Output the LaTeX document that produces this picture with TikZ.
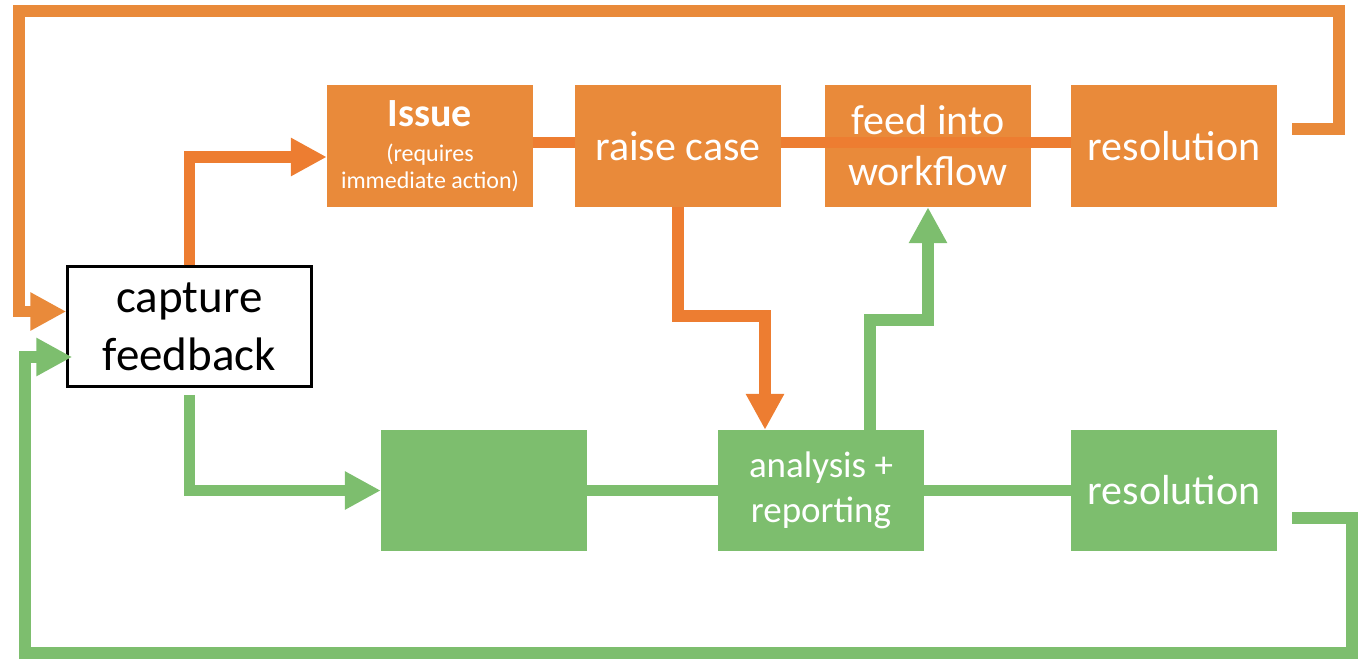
\documentclass[tikz,border=0pt]{standalone}
\usepackage{fontspec}
\setmainfont{Carlito}
\usetikzlibrary{arrows.meta}

\definecolor{flowOrange}{RGB}{233,138,58}
\definecolor{linkOrange}{RGB}{237,125,49}
\definecolor{flowGreen}{RGB}{125,190,110}

\begin{document}
\begin{tikzpicture}[
        x=1pt, y=-1pt,
        box/.style={rectangle, inner sep=0pt, minimum width=206pt, text=white, align=center},
        obox/.style={box, fill=flowOrange, minimum height=122pt},
        gbox/.style={box, fill=flowGreen, minimum height=121pt},
        big/.style={font=\fontsize{42}{51}\selectfont},
        link/.style={line width=11.5pt},
        pointed/.style={-{Triangle[length=36pt,width=36pt]}}
    ]
    \useasboundingbox (0,0) rectangle (1359,659);

    % upper row
    \node[obox, font=\fontsize{24}{27}\selectfont] (issue) at (430,146)
        {{\fontsize{40}{40}\selectfont\bfseries Issue}\\[8pt](requires\\immediate action)};
    \node[obox, big] (raise) at (678,146) {raise case};
    \node[obox, big] (feed) at (928,146) {feed into\\workflow};
    \node[obox, big] (resA) at (1174,146) {resolution};

    % lower row
    \node[gbox] (blank) at (484,490.5) {};
    \node[gbox, font=\fontsize{37}{45}\selectfont] (analysis) at (821,490.5) {analysis +\\reporting};
    \node[gbox, big] (resB) at (1174,490.5) {resolution};

    \node[draw, line width=2.5pt, inner sep=0pt, minimum width=244pt, minimum height=120pt,
        align=center, font=\fontsize{47}{58}\selectfont] (capture) at (189.5,326.5) {capture\\feedback};

    \coordinate (kinkA) at (765,316);
    \coordinate (kinkB) at (870,320);
    \coordinate (topR) at (1339,11);
    \coordinate (topL) at (19,11);
    \coordinate (botR) at (1352,653);
    \coordinate (botL) at (25,653);

    % orange chain
    \draw[link, linkOrange] ([yshift=3.5pt]issue.east) -- ([yshift=3.5pt]raise.west);
    \draw[link, linkOrange] ([yshift=3.5pt]raise.east) -- ([yshift=3.5pt]resA.west);
    \draw[link, linkOrange, pointed] (capture.north) |- ([yshift=-11pt]issue.west);
    \draw[link, linkOrange, pointed] (raise.south) |- (kinkA) -- (kinkA |- analysis.north);

    % green chain
    \draw[link, flowGreen] (blank.east) -- (analysis.west);
    \draw[link, flowGreen] (analysis.east) -- (resB.west);
    \draw[link, flowGreen, pointed] ([yshift=-7pt]capture.south) |- (blank.west);
    \draw[link, flowGreen, pointed] (kinkB |- analysis.north) -- (kinkB) -| (feed.south);

    % loops back to the start
    \draw[link, flowOrange, pointed] ([xshift=15pt,yshift=17pt]resA.east) -| (topR) -- (topL)
        |- ([yshift=15pt]capture.west);
    \draw[link, flowGreen, pointed] ([xshift=15pt,yshift=-27.5pt]resB.east) -| (botR) -- (botL)
        |- ([xshift=6pt,yshift=-30.5pt]capture.west);
\end{tikzpicture}
\end{document}
